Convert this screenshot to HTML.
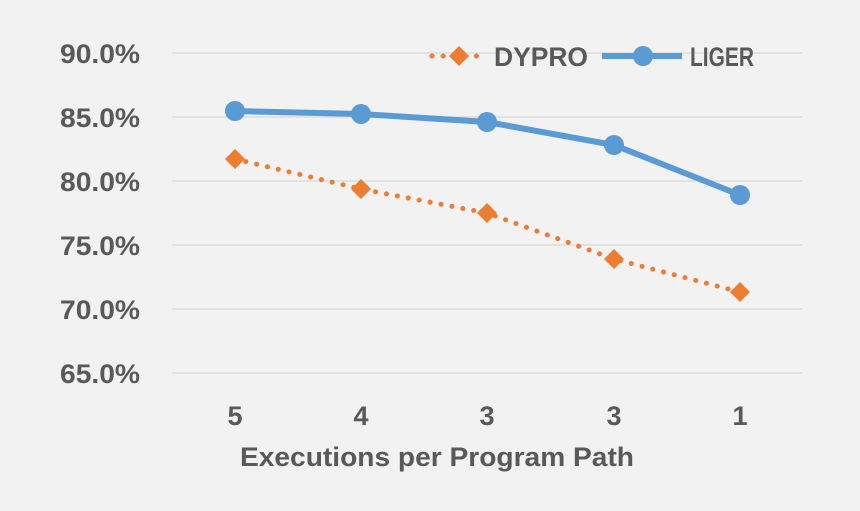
<!DOCTYPE html>
<html><head><style>body{margin:0;background:#f2f2f2}svg{display:block}</style></head><body>
<svg width="860" height="511" xmlns="http://www.w3.org/2000/svg" font-family="Liberation Sans, sans-serif" font-weight="bold" fill="#595959">
<rect width="860" height="511" fill="#f2f2f2"/>
<g stroke="#d9d9d9" stroke-width="1.3">
<line x1="172" x2="802" y1="53" y2="53"/><line x1="172" x2="802" y1="117" y2="117"/><line x1="172" x2="802" y1="181" y2="181"/><line x1="172" x2="802" y1="245" y2="245"/><line x1="172" x2="802" y1="309" y2="309"/><line x1="172" x2="802" y1="373" y2="373"/>
</g>
<g font-size="27" text-anchor="end">
<text x="140" y="63" textLength="80" lengthAdjust="spacingAndGlyphs">90.0%</text><text x="140" y="127" textLength="80" lengthAdjust="spacingAndGlyphs">85.0%</text><text x="140" y="191" textLength="80" lengthAdjust="spacingAndGlyphs">80.0%</text><text x="140" y="255" textLength="80" lengthAdjust="spacingAndGlyphs">75.0%</text><text x="140" y="319" textLength="80" lengthAdjust="spacingAndGlyphs">70.0%</text><text x="140" y="383" textLength="80" lengthAdjust="spacingAndGlyphs">65.0%</text>
</g>
<g font-size="27" text-anchor="middle">
<text x="235" y="425">5</text><text x="361" y="425">4</text><text x="487" y="425">3</text><text x="614" y="425">3</text><text x="740" y="425">1</text>
<text x="437" y="466" textLength="394" lengthAdjust="spacingAndGlyphs">Executions per Program Path</text>
</g>
<polyline points="235,159 361,189 487,213 614,259 740,292" fill="none" stroke="#ed7d31" stroke-width="5" stroke-dasharray="0.1 11" stroke-linecap="round"/>
<g fill="#ed7d31">
<path d="M235 149l10 10-10 10-10-10z"/><path d="M361 179l10 10-10 10-10-10z"/><path d="M487 203l10 10-10 10-10-10z"/><path d="M614 249l10 10-10 10-10-10z"/><path d="M740 282l10 10-10 10-10-10z"/>
</g>
<polyline points="235,111 361,114 487,122 614,145 740,195" fill="none" stroke="#5b9bd5" stroke-width="6"/>
<g fill="#5b9bd5">
<circle cx="235" cy="111" r="10"/><circle cx="361" cy="114" r="10"/><circle cx="487" cy="122" r="10"/><circle cx="614" cy="145" r="10"/><circle cx="740" cy="195" r="10"/>
</g>
<line x1="432" x2="486" y1="56" y2="56" stroke="#ed7d31" stroke-width="5" stroke-dasharray="0.1 11" stroke-linecap="round"/>
<path d="M459 46l10 10-10 10-10-10z" fill="#ed7d31"/>
<text x="494" y="66" font-size="27" textLength="94" lengthAdjust="spacingAndGlyphs">DYPRO</text>
<line x1="602" x2="682" y1="56" y2="56" stroke="#5b9bd5" stroke-width="6"/>
<circle cx="643" cy="56" r="10" fill="#5b9bd5"/>
<text x="690" y="66" font-size="27" textLength="64" lengthAdjust="spacingAndGlyphs">LIGER</text>
</svg>
</body></html>
